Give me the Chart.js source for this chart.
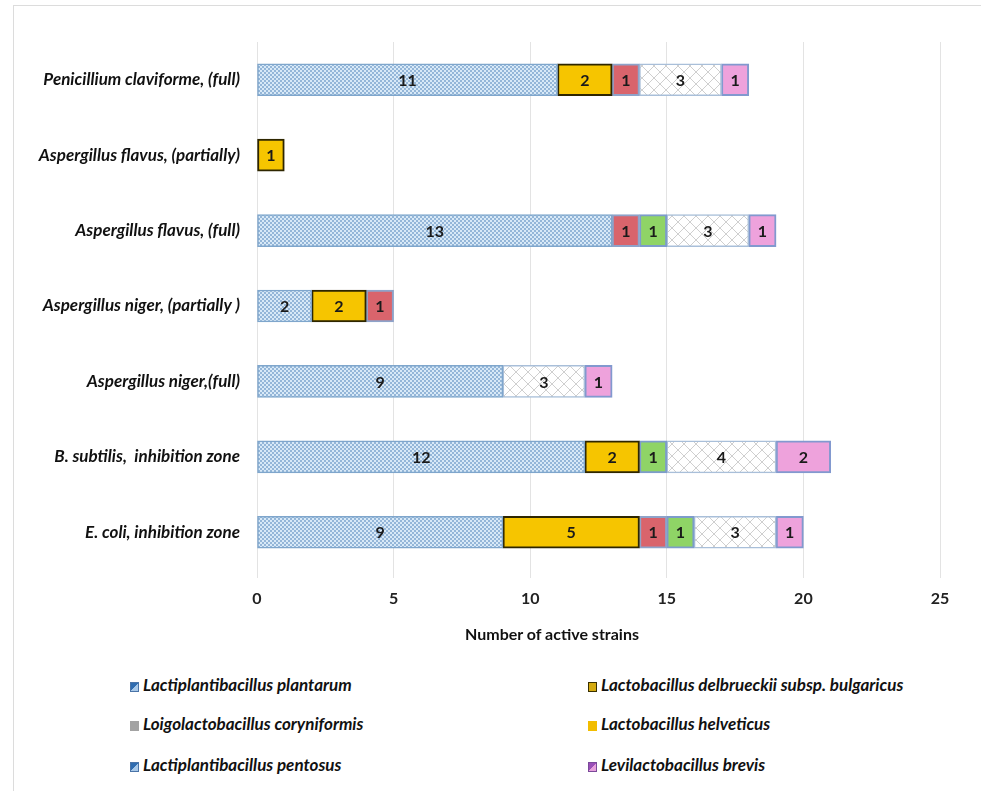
<!DOCTYPE html>
<html>
<head>
<meta charset="utf-8">
<script src="https://cdn.jsdelivr.net/npm/chart.js@4/dist/chart.umd.min.js"></script>
<style>
  html, body { margin: 0; padding: 0; background: #ffffff; }
  #wrap { position: relative; width: 981px; height: 791px; overflow: hidden; background: #fff; }
  #frame { position: absolute; left: 13px; top: 5px; right: -5px; bottom: -5px; border-top: 1px solid #dcdcdc; border-left: 1px solid #dcdcdc; }
  #chartBox { position: absolute; left: 0; top: 0; width: 981px; height: 660px; }
  #xtitle { position: absolute; left: 402px; top: 624px; width: 300px; text-align: center; font-family: Lato, "Open Sans", sans-serif; font-weight: bold; font-size: 16px; line-height: 20px; color: #111; }
  .leg { position: absolute; font-family: Lato, "Open Sans", sans-serif; font-weight: bold; font-style: italic; font-size: 17px; color: #111; white-space: nowrap; line-height: 20px; }
  .sw { display: inline-block; width: 9px; height: 10px; margin-right: 4px; vertical-align: -1px; box-sizing: border-box; }
</style>
</head>
<body>
<div id="wrap">
  <div id="frame"></div>
  <div id="chartBox"><canvas id="c" width="981" height="660"></canvas></div>
  <div id="xtitle"></div>
  <div id="legend"></div>
</div>
<script>
// ---- data ----
const categories = [
  "Penicillium claviforme, (full)",
  "Aspergillus flavus, (partially)",
  "Aspergillus flavus, (full)",
  "Aspergillus niger, (partially )",
  "Aspergillus niger,(full)",
  "B. subtilis,  inhibition zone",
  "E. coli, inhibition zone"
];
const seriesNames = [
  "Lactiplantibacillus plantarum",
  "Lactobacillus delbrueckii subsp. bulgaricus",
  "Loigolactobacillus coryniformis",
  "Lactobacillus helveticus",
  "Lactiplantibacillus pentosus",
  "Levilactobacillus brevis"
];
const plantarum   = [11, 0, 13, 2, 9, 12, 9];
const delbrueckii = [2, 1, 0, 2, 0, 2, 5];
const coryniformis = [1, 0, 1, 1, 0, 0, 1];
const helveticus  = [0, 0, 1, 0, 0, 1, 1];
const pentosus    = [3, 0, 3, 0, 3, 4, 3];
const brevis      = [1, 0, 1, 0, 1, 2, 1];
const xTicks = [0, 5, 10, 15, 20, 25];
const axisTitle = "Number of active strains";

document.getElementById('xtitle').textContent = axisTitle;

// ---- patterns ----
function dotPattern() {
  const p = document.createElement('canvas'); p.width = 4; p.height = 4;
  const g = p.getContext('2d');
  g.fillStyle = '#d8e9f7'; g.fillRect(0, 0, 4, 4);
  g.fillStyle = '#94b6d8'; g.fillRect(0, 0, 2, 2); g.fillRect(2, 2, 2, 2);
  return g.createPattern(p, 'repeat');
}
function latticePattern() {
  const p = document.createElement('canvas'); p.width = 12; p.height = 12;
  const g = p.getContext('2d');
  g.fillStyle = '#ffffff'; g.fillRect(0, 0, 12, 12);
  g.strokeStyle = '#cfcfcf'; g.lineWidth = 1;
  g.beginPath(); g.moveTo(0, 0); g.lineTo(12, 12); g.moveTo(12, 0); g.lineTo(0, 12); g.stroke();
  return g.createPattern(p, 'repeat');
}

const styles = [
  { bg: dotPattern(), border: '#7fa6cc', bw: 1.5 },
  { bg: '#f6c500', border: '#2e2600', bw: 2 },
  { bg: '#d9646c', border: '#8ea3c9', bw: 2 },
  { bg: '#8fd466', border: '#7d9ccb', bw: 2 },
  { bg: latticePattern(), border: '#a9bfd9', bw: 1.5 },
  { bg: '#eea2dc', border: '#8299cf', bw: 2 }
];
const seriesData = [plantarum, delbrueckii, coryniformis, helveticus, pentosus, brevis];

const datasets = seriesData.map((d, i) => ({
  label: seriesNames[i],
  data: d,
  backgroundColor: styles[i].bg,
  borderColor: styles[i].border,
  borderWidth: styles[i].bw,
  borderSkipped: false,
  barThickness: 32,
  stack: 's'
}));

const valueLabels = {
  id: 'valueLabels',
  afterDatasetsDraw(chart) {
    const ctx = chart.ctx;
    ctx.save();
    ctx.font = 'bold 16px Lato, "Open Sans", sans-serif';
    ctx.fillStyle = '#1a1a1a';
    ctx.textAlign = 'center';
    ctx.textBaseline = 'middle';
    chart.data.datasets.forEach((ds, di) => {
      const meta = chart.getDatasetMeta(di);
      meta.data.forEach((el, i) => {
        const v = ds.data[i];
        if (!v) return;
        const p = el.getProps(['x', 'y', 'base'], true);
        ctx.fillText(String(v), (p.x + p.base) / 2, p.y + 1);
      });
    });
    ctx.restore();
  }
};

new Chart(document.getElementById('c'), {
  type: 'bar',
  data: { labels: categories, datasets },
  options: {
    indexAxis: 'y',
    responsive: false,
    animation: false,
    layout: { padding: { left: 0, right: 41, top: 42, bottom: 15 } },
    plugins: { legend: { display: false }, tooltip: { enabled: false } },
    scales: {
      x: {
        stacked: true,
        min: 0, max: 25,
        afterBuildTicks(scale) { scale.ticks = xTicks.map(v => ({ value: v })); },
        afterFit(scale) { scale.height = 75; },
        grid: { color: '#e3e3e3', lineWidth: 1, drawTicks: true, tickLength: 8, tickColor: '#e3e3e3' },
        border: { display: false },
        ticks: { color: '#222', font: { family: 'Lato, "Open Sans", sans-serif', size: 16, weight: 'bold' }, padding: 11 },
        title: { display: false }
      },
      y: {
        stacked: true,
        afterFit(scale) { scale.width = 257; },
        grid: { display: false },
        border: { display: false },
        ticks: { color: '#111', font: { family: 'Lato, "Open Sans", sans-serif', size: 17, weight: 'bold', style: 'italic' }, padding: 9 }
      }
    }
  },
  plugins: [valueLabels]
});

// ---- legend (HTML, two columns) ----
const legendSwatches = [
  'linear-gradient(135deg,#2f6cb0 50%,#a8c8e8 50%)',
  '#d4aa10',
  '#a3a3a3',
  '#f2bd00',
  'linear-gradient(135deg,#2f6cb0 50%,#a8c8e8 50%)',
  'linear-gradient(135deg,#9a4fb8 50%,#e6a0dc 50%)'
];
const legendBorders = ['#4a74a8', '#3a3000', '#a3a3a3', '#f2bd00', '#4a74a8', '#7a4a9a'];
const legendPos = [
  [130, 675], [588, 675],
  [130, 714], [588, 714],
  [130, 755], [588, 755]
];
const legEl = document.getElementById('legend');
seriesNames.forEach((n, i) => {
  const d = document.createElement('div');
  d.className = 'leg';
  d.style.left = legendPos[i][0] + 'px';
  d.style.top = legendPos[i][1] + 'px';
  const s = document.createElement('span');
  s.className = 'sw';
  s.style.background = legendSwatches[i];
  s.style.border = '1px solid ' + legendBorders[i];
  d.appendChild(s);
  d.appendChild(document.createTextNode(n));
  legEl.appendChild(d);
});
</script>
</body>
</html>
